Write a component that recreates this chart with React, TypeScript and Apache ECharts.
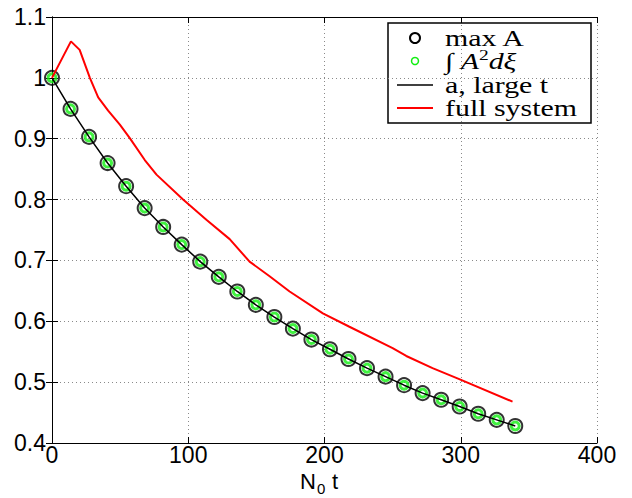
import React, { useEffect, useRef } from "react";
import * as echarts from "echarts";

const xTicks = [0, 100, 200, 300, 400];
const yTicks = [0.4, 0.5, 0.6, 0.7, 0.8, 0.9, 1.0, 1.1];

const markerX = [0, 13.6, 27.2, 40.8, 54.4, 68, 81.6, 95.2, 108.8, 122.4, 136, 149.6, 163.2, 176.8, 190.4, 204, 217.6, 231.2, 244.8, 258.4, 272, 285.6, 299.2, 312.8, 326.4, 340];
const maxA = [1.0, 0.949, 0.903, 0.86, 0.822, 0.786, 0.755, 0.726, 0.698, 0.673, 0.649, 0.627, 0.607, 0.588, 0.57, 0.554, 0.538, 0.523, 0.509, 0.495, 0.482, 0.471, 0.46, 0.448, 0.438, 0.428];
const intA2 = [1.0, 0.949, 0.903, 0.86, 0.822, 0.786, 0.755, 0.726, 0.698, 0.673, 0.649, 0.627, 0.607, 0.588, 0.57, 0.554, 0.538, 0.523, 0.509, 0.495, 0.482, 0.471, 0.46, 0.448, 0.438, 0.428];
const largeT = [1.0, 0.949, 0.903, 0.86, 0.822, 0.786, 0.755, 0.726, 0.698, 0.673, 0.649, 0.627, 0.607, 0.588, 0.57, 0.554, 0.538, 0.523, 0.509, 0.495, 0.482, 0.471, 0.46, 0.448, 0.438, 0.428];

const fullX = [0, 13.9, 20.3, 27.8, 33.9, 41.2, 49.8, 57.1, 68.1, 76.7, 96.2, 113.3, 130.4, 145, 159.7, 174.4, 198.8, 218.3, 250, 260, 279.3, 298.9, 338];
const fullY = [1.0, 1.06, 1.046, 1.0, 0.968, 0.946, 0.923, 0.901, 0.865, 0.841, 0.8, 0.767, 0.735, 0.698, 0.674, 0.649, 0.613, 0.591, 0.556, 0.543, 0.523, 0.505, 0.468];

const legendLabels = ["max A", "∫ A²dξ", "a, large t", "full system"];

const zip = (xs: number[], ys: number[]) => xs.map((x, i) => [x, ys[i]]);

export default function App() {
  const ref = useRef<HTMLDivElement>(null);
  useEffect(() => {
    if (!ref.current) return;
    const chart = echarts.init(ref.current, null, { renderer: "svg" });
    const sans = "Liberation Sans, Arial, sans-serif";
    const tickFont = { fontFamily: sans, fontSize: 23, color: "#000", lineHeight: 20 };
    const grid = { lineStyle: { color: "#8a8a8a", type: [1, 3], width: 1 } };
    const axisLine = { show: true, lineStyle: { color: "#000", width: 1 } };
    const tick = { show: true, inside: true, length: 6, lineStyle: { color: "#000" } };
    const legFont = "Liberation Serif, Times New Roman, serif";
    const lx = 445;
    const rows = [38, 61, 85, 108];
    const green = "#11ee11";
    chart.setOption({
      animation: false,
      backgroundColor: "#fff",
      grid: { left: 52, right: 35, top: 17, bottom: 55 },
      xAxis: [
        {
          type: "value", min: xTicks[0], max: xTicks[xTicks.length - 1], interval: 100,
          axisLine, axisTick: tick, splitLine: { show: true, ...grid },
          axisLabel: { ...tickFont, margin: 2 },
        },
        {
          type: "value", position: "top", min: xTicks[0], max: xTicks[xTicks.length - 1], interval: 100,
          axisLine, axisTick: tick, splitLine: { show: false }, axisLabel: { show: false },
        },
      ],
      yAxis: [
        {
          type: "value", min: yTicks[0], max: yTicks[yTicks.length - 1], interval: 0.1,
          axisLine, axisTick: tick, splitLine: { show: true, ...grid },
          axisLabel: { ...tickFont, margin: 6, formatter: (v: number) => String(Math.round(v * 10) / 10) },
        },
        {
          type: "value", position: "right", min: yTicks[0], max: yTicks[yTicks.length - 1], interval: 0.1,
          axisLine, axisTick: tick, splitLine: { show: false }, axisLabel: { show: false },
        },
      ],
      series: [
        {
          name: legendLabels[0], type: "scatter", data: zip(markerX, maxA), symbol: "circle", symbolSize: 14, z: 2,
          itemStyle: { color: "rgba(0,0,0,0)", borderColor: "#000", borderWidth: 2 },
        },
        {
          name: legendLabels[1], type: "scatter", data: zip(markerX, intA2), symbol: "circle", symbolSize: 8, z: 3,
          itemStyle: { color: "rgba(0,0,0,0)", borderColor: green, borderWidth: 3 },
        },
        {
          name: legendLabels[2], type: "line", data: zip(markerX, largeT), showSymbol: false, z: 4,
          lineStyle: { color: "#000", width: 1.5 },
        },
        {
          name: legendLabels[3], type: "line", data: zip(fullX, fullY), showSymbol: false, z: 5,
          lineStyle: { color: "#ff0000", width: 2 },
        },
      ],
      graphic: [
        { type: "text", x: 300, y: 472, style: { text: "N", font: `22px ${sans}`, lineHeight: 18, fill: "#000" } },
        { type: "text", x: 317, y: 482, style: { text: "0", font: `15px ${sans}`, lineHeight: 13, fill: "#000" } },
        { type: "text", x: 332, y: 472, style: { text: "t", font: `22px ${sans}`, lineHeight: 18, fill: "#000" } },
        {
          type: "group", z: 100,
          children: [
            { type: "rect", shape: { x: 388, y: 23, width: 203, height: 100 }, style: { fill: "#fff", stroke: "#000", lineWidth: 1.5 } },
            { type: "circle", shape: { cx: 415, cy: rows[0], r: 5 }, style: { fill: "none", stroke: "#000", lineWidth: 2 } },
            { type: "circle", shape: { cx: 415, cy: rows[1], r: 3.5 }, style: { fill: "none", stroke: green, lineWidth: 1.5 } },
            { type: "line", shape: { x1: 397, y1: rows[2], x2: 433, y2: rows[2] }, style: { stroke: "#000", lineWidth: 1.5 } },
            { type: "line", shape: { x1: 397, y1: rows[3], x2: 433, y2: rows[3] }, style: { stroke: "#ff0000", lineWidth: 2 } },
            { type: "text", x: lx, y: rows[0], scaleX: 1.3, style: { text: legendLabels[0], font: `23px ${legFont}`, fill: "#000", verticalAlign: "middle" } },
            {
              type: "text", x: lx, y: rows[1], scaleX: 1.3,
              style: {
                text: "{i|∫ }{a|A}{p|2}{a|dξ}", verticalAlign: "middle",
                rich: {
                  i: { fontFamily: legFont, fontSize: 23, fontStyle: "italic", fill: "#000" },
                  a: { fontFamily: legFont, fontSize: 23, fontStyle: "italic", fill: "#000" },
                  p: { fontFamily: legFont, fontSize: 15, fill: "#000", padding: [0, 0, 11, 0] },
                },
              },
            },
            { type: "text", x: lx, y: rows[2], scaleX: 1.3, style: { text: legendLabels[2], font: `23px ${legFont}`, fill: "#000", verticalAlign: "middle" } },
            { type: "text", x: lx, y: rows[3], scaleX: 1.3, style: { text: legendLabels[3], font: `23px ${legFont}`, fill: "#000", verticalAlign: "middle" } },
          ],
        },
      ],
    });
    return () => chart.dispose();
  }, []);
  return <div ref={ref} style={{ position: "fixed", left: 0, top: 0, width: 632, height: 498 }} />;
}
